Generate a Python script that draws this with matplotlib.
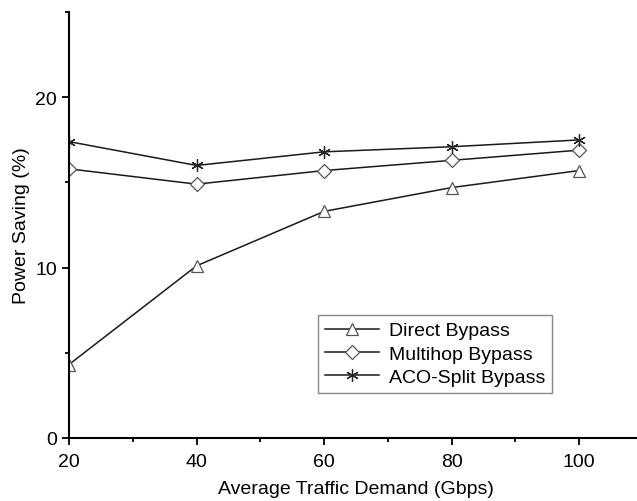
import matplotlib
matplotlib.use("Agg")
import matplotlib.pyplot as plt
from matplotlib.ticker import MultipleLocator

plt.rcParams['font.family'] = ['Liberation Sans', 'DejaVu Sans']

# Traffic demand (Gbps)
demand = [20, 40, 60, 80, 100]

# Power saving (%) per bypass scheme
direct = [4.3, 10.1, 13.3, 14.7, 15.7]
multihop = [15.8, 14.9, 15.7, 16.3, 16.9]
aco_split = [17.4, 16.0, 16.8, 17.1, 17.5]

fig = plt.figure(figsize=(6.37, 5.02), dpi=100)
ax = fig.add_axes([0.1083, 0.1261, 0.9011, 0.8474])

style = dict(color='#1a1a1a', linewidth=1.1, markersize=9,
             markerfacecolor='white', markeredgecolor='#555555', markeredgewidth=0.9)
ax.plot(demand, direct, marker='^', label='Direct Bypass', **style)
ax.plot(demand, multihop, marker='D', label='Multihop Bypass',
        **{**style, 'markersize': 7.5})
ax.plot(demand, aco_split, marker=(6, 2, 0), label='ACO-Split Bypass',
        **{**style, 'markeredgecolor': '#222222'})

ax.set_xlim(20, 110)
ax.set_ylim(0, 25)
ax.xaxis.set_major_locator(MultipleLocator(20))
ax.xaxis.set_minor_locator(MultipleLocator(10))
ax.yaxis.set_major_locator(MultipleLocator(10))
ax.yaxis.set_minor_locator(MultipleLocator(5))

ax.spines['top'].set_visible(False)
ax.spines['right'].set_visible(False)
for s in ('left', 'bottom'):
    ax.spines[s].set_linewidth(1.5)
ax.tick_params(which='major', direction='out', length=5, width=1.3, labelsize=14)
ax.tick_params(which='minor', direction='out', length=3, width=1.3)
ax.tick_params(axis='x', which='major', pad=6)

ax.set_xlabel('Average Traffic Demand (Gbps)', fontsize=14, labelpad=7)
ax.set_ylabel('Power Saving (%)', fontsize=14, labelpad=4)

leg = ax.legend(loc='lower left', bbox_to_anchor=(0.434, 0.105), fontsize=14,
                fancybox=False, edgecolor='#888888', framealpha=1,
                handlelength=2.8, handletextpad=0.5, borderpad=0.35,
                labelspacing=0.3, borderaxespad=0)
leg.get_frame().set_linewidth(1.0)

fig.savefig('out.png', dpi=100)
